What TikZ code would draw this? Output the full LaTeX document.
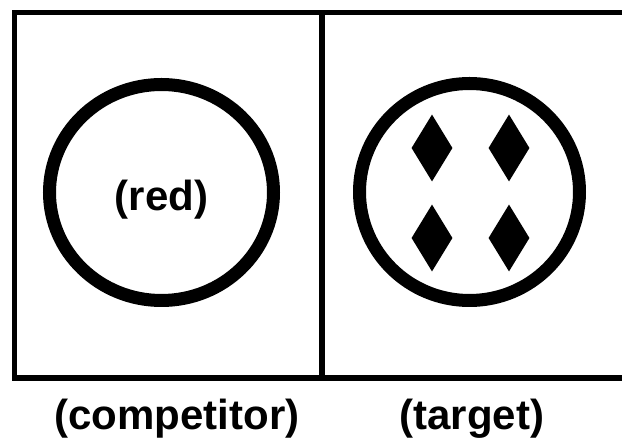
\documentclass[tikz,border=0pt]{standalone}
\usepackage{xcolor}
\usepackage{fontspec}
\setmainfont{Liberation Sans}
\usetikzlibrary{shapes.geometric}

\tikzset{
  frameline/.style={line width=5.5pt, line cap=rect},
  ring/.style={draw, ellipse, line width=13pt, inner sep=0pt},
  pip/.style={diamond, fill=black, inner sep=0pt, minimum width=41pt, minimum height=67pt},
  caption/.style={font=\fontsize{42}{50}\selectfont\bfseries, inner sep=0pt}
}

\begin{document}
\begin{tikzpicture}[x=1pt,y=-1pt]
% Page size (pixel units, y down)
\useasboundingbox (0,0) rectangle (622,443);

% Frame and divider
\coordinate (tl) at (14.5,12.5);
\coordinate (tr) at (622,12.5);
\coordinate (bl) at (14.5,378);
\coordinate (br) at (622,378);
\coordinate (dtop) at (322,12.5);
\coordinate (dbot) at (322,378);
\draw[frameline] (tr) -- (tl) -- (bl) -- (br);
\draw[frameline] (dtop) -- (dbot);

% Competitor panel
\node[ring, minimum width=224pt, minimum height=216pt] (compring) at (161.5,192.5) {};
\node[caption] (red) at (161.5,200) {(red)};

% Target panel
\node[ring, minimum width=220pt, minimum height=217pt] (targring) at (469.5,192) {};
\node[pip] (pipa) at (432,148) {};
\node[pip] (pipb) at (509,148) {};
\node[pip] (pipc) at (432,238) {};
\node[pip] (pipd) at (509,238) {};

% Labels below
\node[caption] (complabel) at (177,419) {(competitor)};
\node[caption] (targlabel) at (472,419) {(target)};
\end{tikzpicture}
\end{document}
